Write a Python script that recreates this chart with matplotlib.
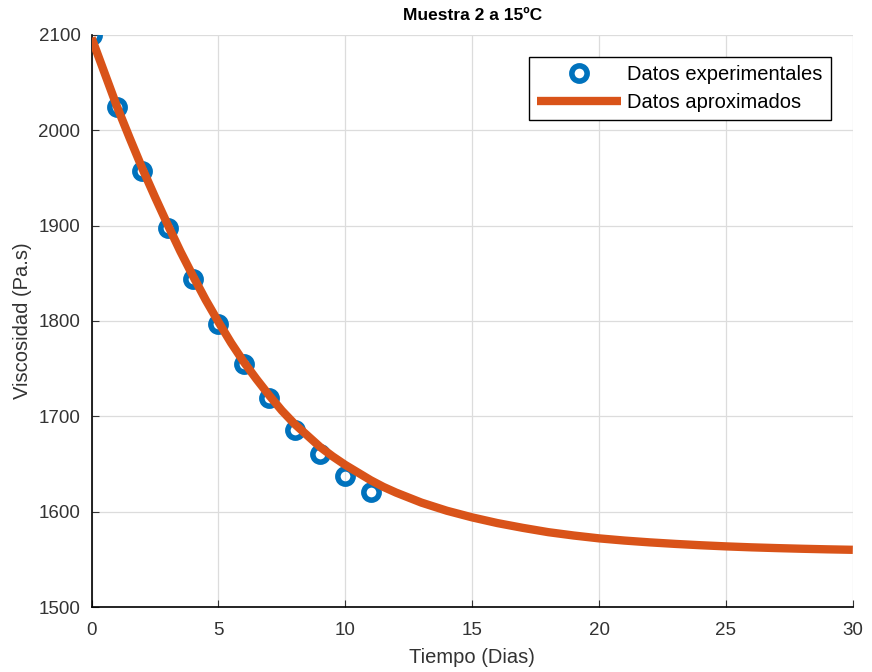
import numpy as np
import matplotlib
matplotlib.use('Agg')
import matplotlib.pyplot as plt

# measured data (days, Pa.s)
t_exp = [0, 1, 2, 3, 4, 5, 6, 7, 8, 9, 10, 11]
v_exp = [2100, 2024, 1957, 1897, 1844, 1797, 1755, 1719, 1686, 1660, 1637, 1621]

# fitted curve (every half day)
t_fit = [0, 0.5, 1, 1.5, 2, 2.5, 3, 3.5, 4, 4.5, 5, 5.5, 6, 6.5, 7, 7.5, 8, 8.5,
         9, 9.5, 10, 10.5, 11, 11.5, 12, 13, 14, 15, 16, 17, 18, 19, 20, 21,
         22, 23, 24, 25, 26, 27, 28, 29, 30]
v_fit = [2097, 2061, 2025, 1992, 1960, 1930, 1901, 1873, 1847, 1822, 1799,
         1777, 1757, 1739, 1722, 1706, 1692, 1680, 1668, 1658, 1649, 1641,
         1633, 1626, 1620, 1609.5, 1601, 1594, 1588, 1583, 1578.5, 1575,
         1572, 1569.7, 1567.8, 1566.2, 1564.8, 1563.6, 1562.6, 1561.8, 1561.1,
         1560.5, 1560]

xticks = [0, 5, 10, 15, 20, 25, 30]
yticks = [1500, 1600, 1700, 1800, 1900, 2000, 2100]

plt.rcParams['font.family'] = ['Liberation Sans', 'DejaVu Sans']

fig = plt.figure(figsize=(8.72, 6.72), dpi=100)
ax = fig.add_axes([0.105, 0.0967, 0.873, 0.8513])

ax.plot(t_exp, v_exp, 'o', mfc='none', mec=(0, 0.447, 0.741), ms=11, mew=4,
        label='Datos experimentales', zorder=3)
ax.plot(t_fit, v_fit, '-', color=(0.85, 0.325, 0.098), lw=6,
        solid_capstyle='butt', label='Datos aproximados', zorder=4)

ax.set_xlim(0, 30)
ax.set_ylim(1500, 2100)
ax.set_xticks(xticks)
ax.set_yticks(yticks)
ax.tick_params(direction='in', labelsize=13.5, colors='#333333', length=5)
ax.tick_params(axis='x', pad=11)
ax.tick_params(axis='y', pad=8)
ax.grid(True, color='#dcdcdc', lw=0.9)
ax.set_axisbelow(True)
for s in ['top', 'right']:
    ax.spines[s].set_visible(False)
for s in ['left', 'bottom']:
    ax.spines[s].set_color('black')
    ax.spines[s].set_linewidth(1.2)

ax.set_title('Muestra 2 a 15ºC', fontsize=12.5, fontweight='bold', pad=11)
ax.set_xlabel('Tiempo (Dias)', fontsize=14.5, color='#333333', labelpad=6)
ax.set_ylabel('Viscosidad (Pa.s)', fontsize=14.5, color='#333333', labelpad=5)

leg = ax.legend(loc='upper right', fontsize=14.5, fancybox=False, framealpha=1,
                edgecolor='black', borderaxespad=1.1, handlelength=4.2,
                handletextpad=0.3, borderpad=0.4, labelspacing=0.45)
leg.get_frame().set_linewidth(1.0)

plt.savefig('out.png', dpi=100)
plt.close()
